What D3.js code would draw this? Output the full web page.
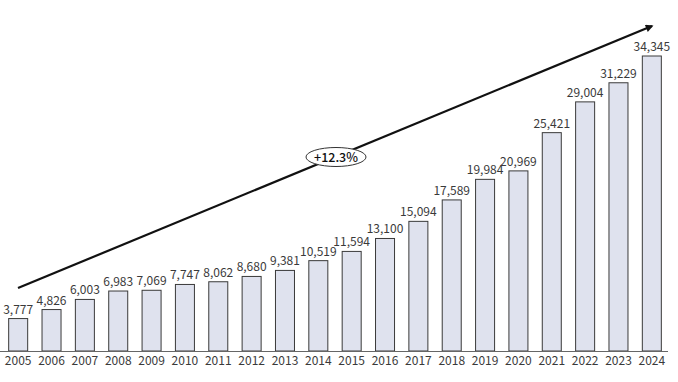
<!DOCTYPE html>
<html><head><meta charset="utf-8">
<script src="https://cdn.jsdelivr.net/npm/d3@7"></script>
<style>body{margin:0;background:#fff}svg{display:block}</style>
</head><body>
<svg id="c" width="678" height="382"></svg>
<script>
const years = ["2005","2006","2007","2008","2009","2010","2011","2012","2013","2014","2015","2016","2017","2018","2019","2020","2021","2022","2023","2024"];
const values = [3777,4826,6003,6983,7069,7747,8062,8680,9381,10519,11594,13100,15094,17589,19984,20969,25421,29004,31229,34345];
const cagrLabel = "+12.3%";

const svg = d3.select("#c");
const font = "'Noto Sans CJK JP','Noto Sans',sans-serif";
const base = 351;
const x = d3.scaleBand().domain(years).range([2, 668]).paddingInner(0.43).paddingOuter(0.2);
const y = d3.scaleLinear().domain([0, 34345]).range([base, 56]);

svg.append("defs").append("marker").attr("id","ah").attr("viewBox","0 0 10 10")
  .attr("refX",8).attr("refY",5).attr("markerWidth",4.5).attr("markerHeight",3.5)
  .attr("orient","auto").append("path").attr("d","M0,0 L10,5 L0,10 z").attr("fill","#111");

svg.selectAll("rect.bar").data(values).join("rect").attr("class","bar")
  .attr("x",(d,i)=>x(years[i])).attr("width",x.bandwidth())
  .attr("y",d=>y(d)).attr("height",d=>base-y(d))
  .attr("fill","#dfe2ee").attr("stroke","#3a3a3a").attr("stroke-width",1);

svg.selectAll("text.val").data(values).join("text").attr("class","val")
  .attr("x",(d,i)=>x(years[i])+x.bandwidth()/2).attr("y",d=>y(d)-5)
  .attr("text-anchor","middle").attr("font-family",font).attr("font-size",12)
  .attr("fill","#3a3a3a").text(d=>d3.format(",")(d));

const ax = svg.append("g").attr("transform",`translate(0,${base})`)
  .call(d3.axisBottom(x).tickSize(0).tickPadding(5));
ax.select(".domain").attr("stroke","#666").attr("d","M0,0.5H668");
ax.selectAll("text").attr("font-family",font).attr("font-size",12).attr("fill","#3a3a3a");

svg.append("line").attr("x1",18).attr("y1",288).attr("x2",652).attr("y2",26)
  .attr("stroke","#111").attr("stroke-width",2.2).attr("marker-end","url(#ah)");

svg.append("ellipse").attr("cx",336).attr("cy",157).attr("rx",30).attr("ry",9.5)
  .attr("fill","#fff").attr("stroke","#333").attr("stroke-width",1);
svg.append("text").attr("x",336).attr("y",161.5).attr("text-anchor","middle")
  .attr("font-family",font).attr("font-size",12.5).attr("font-weight",500).attr("fill","#111").text(cagrLabel);
</script>
</body></html>
